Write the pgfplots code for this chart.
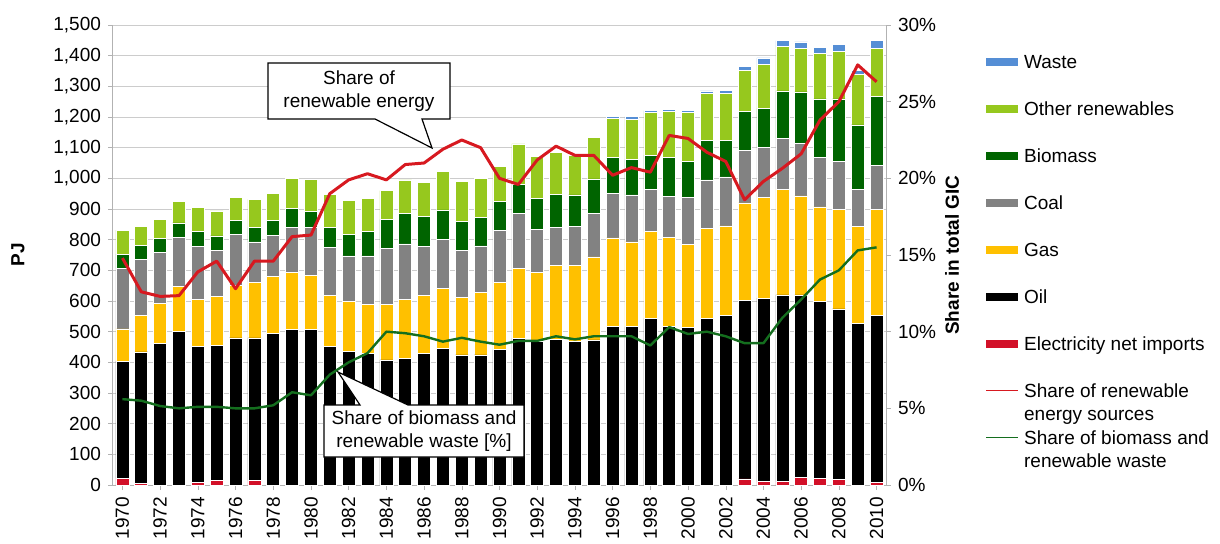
\documentclass[border=0pt]{standalone}
\usepackage{pgfplots}
\pgfplotsset{compat=1.18}
\usepackage{pgfplotstable}
\usepackage{fontspec}
\setmainfont{Liberation Sans}
\definecolor{cwaste}{RGB}{85,142,213}
\definecolor{cother}{RGB}{150,200,30}
\definecolor{cbio}{RGB}{0,100,0}
\definecolor{ccoal}{RGB}{130,130,130}
\definecolor{cgas}{RGB}{255,192,0}
\definecolor{coil}{RGB}{0,0,0}
\definecolor{celec}{RGB}{210,16,40}
\definecolor{cred}{RGB}{215,25,32}
\definecolor{cgreen}{RGB}{20,110,30}
\pgfplotsset{
  barleg/.style={legend image code/.code={\fill[##1,draw=none] (0pt,-1.1pt) rectangle (16pt,2.9pt);}},
  lineleg/.style={legend image code/.code={\draw[##1,line width=0.9pt] (0pt,0.9pt) -- (16pt,0.9pt);}},
}
\newcommand{\fs}{\fontsize{9.5}{11.5}\selectfont}
\pgfplotstableread{
year elec oil gas coal bio other waste red green
1970 22 382 105 197 47 78 0 14.8 5.6
1971 6 428 120 182 46 60 0 12.6 5.5
1972 0 462 130 167 44 63 0 12.3 5.15
1973 0 502 145 161 47 69 0 12.35 5.0
1974 8 443 154 172 51 77 0 13.9 5.1
1975 16 440 158 152 46 82 0 14.6 5.1
1976 0 480 172 165 45 75 0 12.8 5.0
1977 14 466 181 132 47 91 0 14.6 5.0
1978 0 495 184 136 47 89 0 14.6 5.2
1979 0 508 186 146 62 98 0 16.2 6.05
1980 0 508 175 156 54 103 0 16.3 5.85
1981 0 451 168 156 65 108 0 19.0 7.2
1982 0 435 163 149 70 112 0 19.9 8.0
1983 0 429 160 158 81 107 0 20.3 8.6
1984 0 408 181 183 94 94 0 19.9 10.0
1985 0 413 192 181 100 109 0 20.9 9.9
1986 0 429 190 158 98 112 0 21.0 9.7
1987 0 446 195 160 96 125 0 21.9 9.35
1988 0 424 187 153 95 130 0 22.5 9.6
1989 0 424 203 153 93 127 0 22.0 9.35
1990 0 441 219 170 95 115 0 20.0 9.15
1991 0 478 228 180 95 131 0 19.6 9.4
1992 0 467 227 140 101 136 4 21.2 9.4
1993 0 475 240 124 109 136 3 22.1 9.7
1994 0 467 250 125 104 130 3 21.5 9.5
1995 0 473 271 142 112 135 5 21.5 9.7
1996 0 518 288 145 116 129 6 20.2 9.7
1997 0 516 277 153 116 131 8 20.7 9.7
1998 0 543 283 138 112 138 7 20.4 9.1
1999 0 518 290 132 127 150 8 22.8 10.3
2000 0 513 272 152 119 158 7 22.6 9.85
2001 0 543 293 159 129 152 9 21.7 10.0
2002 0 552 293 160 120 152 11 21.1 9.7
2003 20 583 317 172 127 132 13 18.6 9.25
2004 13 596 328 163 128 144 21 19.8 9.25
2005 11 609 345 165 155 144 20 20.65 10.9
2006 25 595 323 171 168 142 21 21.6 12.1
2007 22 578 307 160 192 149 19 23.8 13.4
2008 18 556 325 155 205 156 23 25.0 14.0
2009 0 527 315 122 210 165 14 27.4 15.3
2010 9 543 347 142 225 158 27 26.3 15.5
}\data
\begin{document}
\begin{tikzpicture}
\useasboundingbox (-56.5pt,-29pt) rectangle (553.5pt,242.5pt);
\begin{axis}[
  scale only axis, width=386.5pt, height=230pt,
  xmin=1969.5, xmax=2010.5, ymin=0, ymax=1500,
  ybar stacked, bar width=6.5pt,
  axis y line*=left, axis x line*=bottom,
  axis line style={draw=gray!60, line width=0.5pt},
  ytick={0,100,...,1500}, ymajorgrids,
  grid style={draw=gray!40, line width=0.5pt},
  xtick={1970,1972,...,2010},
  /pgf/number format/assume math mode=true,
  x tick label style={/pgf/number format/1000 sep=, rotate=90, anchor=east, font=\fs},
  y tick label style={/pgf/number format/1000 sep={,}, font=\fs},
  tick align=outside, major tick length=2.5pt, tick style={draw=gray!60},
  ylabel={\textbf{PJ}},
  ylabel style={font=\fs, at={(axis description cs:-0.1229,0.5)}, anchor=center},
]
\addplot[fill=celec, draw=white, line width=0.3pt] table[x=year,y=elec]{\data};
\addplot[fill=coil, draw=white, line width=0.3pt] table[x=year,y=oil]{\data};
\addplot[fill=cgas, draw=white, line width=0.3pt] table[x=year,y=gas]{\data};
\addplot[fill=ccoal, draw=white, line width=0.3pt] table[x=year,y=coal]{\data};
\addplot[fill=cbio, draw=white, line width=0.3pt] table[x=year,y=bio]{\data};
\addplot[fill=cother, draw=white, line width=0.3pt] table[x=year,y=other]{\data};
\addplot[fill=cwaste, draw=white, line width=0.3pt] table[x=year,y=waste]{\data};
\end{axis}
\begin{axis}[
  scale only axis, width=386.5pt, height=230pt,
  xmin=1969.5, xmax=2010.5, ymin=0, ymax=30,
  axis y line*=right, axis x line=none,
  axis line style={draw=gray!60, line width=0.5pt},
  ytick={0,5,...,30},
  /pgf/number format/assume math mode=true,
  yticklabel={\pgfmathprintnumber{\tick}\%},
  y tick label style={font=\fs},
  tick align=outside, major tick length=2.5pt, tick style={draw=gray!60},
  ylabel={\textbf{Share in total GIC}},
  ylabel style={font=\fs, at={(axis description cs:1.0854,0.5)}, anchor=center},
  legend style={at={(rel axis cs:1.128,0.937)}, anchor=north west, draw=none, fill=none,
    font=\fs, inner sep=0pt, row sep=14.5pt, column sep=2.5pt,
    nodes={inner sep=0pt, text height=7pt, text depth=2pt}},
  legend cell align=left,
]
\addlegendimage{barleg, fill=cwaste}
\addlegendentry{Waste}
\addlegendimage{barleg, fill=cother}
\addlegendentry{Other renewables}
\addlegendimage{barleg, fill=cbio}
\addlegendentry{Biomass}
\addlegendimage{barleg, fill=ccoal}
\addlegendentry{Coal}
\addlegendimage{barleg, fill=cgas}
\addlegendentry{Gas}
\addlegendimage{barleg, fill=coil}
\addlegendentry{Oil}
\addlegendimage{barleg, fill=celec}
\addlegendentry{Electricity net imports}
\addplot[cred, line width=1.5pt, line join=round, lineleg] table[x=year,y=red]{\data};
\addlegendentry{\smash{\begin{tabular}[t]{@{}l@{}}Share of renewable\\energy sources\end{tabular}}}
\addplot[cgreen, line width=1.2pt, line join=round, lineleg] table[x=year,y=green]{\data};
\addlegendentry{\smash{\begin{tabular}[t]{@{}l@{}}Share of biomass and\\renewable waste\end{tabular}}}
\end{axis}
\begin{scope}[shift={(-56.5pt,242.5pt)}, x=0.5pt, y=-0.5pt]
\filldraw[fill=white, draw=black, line width=0.6pt] (268,63) -- (450,63) -- (450,119) -- (422,119) -- (432,148) -- (375,119) -- (268,119) -- cycle;
\node[font=\fs, align=center] at (359,91) {Share of\\renewable energy};
\filldraw[fill=white, draw=black, line width=0.6pt] (324,405) -- (360,405) -- (338,372) -- (408,405) -- (524,405) -- (524,457) -- (324,457) -- cycle;
\node[font=\fs, align=center] at (424,431) {Share of biomass and\\renewable waste [\%]};
\end{scope}
\end{tikzpicture}
\end{document}
